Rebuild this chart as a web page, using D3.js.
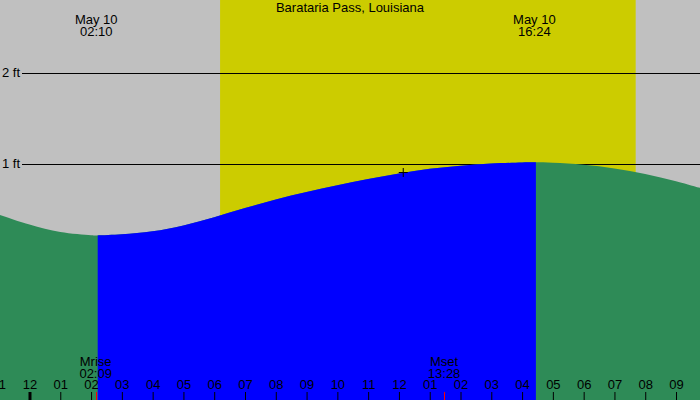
<!DOCTYPE html>
<html>
<head>
<meta charset="utf-8">
<script src="https://cdn.jsdelivr.net/npm/d3@7"></script>
<style>
  body { margin: 0; background: #fff; }
  svg { display: block; font-family: "Liberation Sans", Arial, sans-serif; }
</style>
</head>
<body>
<div id="holder"></div>
<script>
// hours since midnight May 10, tide height in feet
const tideHours = [-1, 0, 1, 2, 2.17, 3, 4, 5, 6, 7, 8, 9, 10, 11, 12, 13, 14, 15, 16, 16.4, 17, 18, 19, 20, 21, 22];
const tideFeet = [0.45, 0.34, 0.257, 0.223, 0.22, 0.232, 0.265, 0.33, 0.42, 0.52, 0.615, 0.695, 0.77, 0.84, 0.90, 0.95, 0.985, 1.008, 1.02, 1.022, 1.017, 0.995, 0.955, 0.895, 0.815, 0.72];

const extremeHours = [2.167, 16.4];
const extremeDates = ["May 10", "May 10"];
const extremeTimes = ["02:10", "16:24"];

const sunHours = [6.19, 19.69];

const moonHours = [2.15, 13.467];
const moonNames = ["Mrise", "Mset"];
const moonTimes = ["02:09", "13:28"];

const levelFeet = [0, 1, 2];
const levelLabels = ["0 ft", "1 ft", "2 ft"];

const tickHours = [-1, 0, 1, 2, 3, 4, 5, 6, 7, 8, 9, 10, 11, 12, 13, 14, 15, 16, 17, 18, 19, 20, 21];
const tickLabels = ["11", "12", "01", "02", "03", "04", "05", "06", "07", "08", "09", "10", "11", "12", "01", "02", "03", "04", "05", "06", "07", "08", "09"];

const nowHour = 12.14;
const nowFeet = 0.91;

const title = "Barataria Pass, Louisiana";

const width = 700;
const height = 400;

const xScale = d3.scaleLinear()
    .domain([-0.958, 21.779])
    .range([0, width]);
const yScale = d3.scaleLinear()
    .domain([0, 2])
    .range([255.5, 73.1]);

const svg = d3.select("#holder")
    .append("svg")
    .attr("width", width)
    .attr("height", height);

// night background
svg.append("rect")
    .attr("width", width)
    .attr("height", height)
    .attr("fill", "#c0c0c0");

// daylight
svg.append("rect")
    .attr("x", xScale(sunHours[0]))
    .attr("y", 0)
    .attr("width", xScale(sunHours[1]) - xScale(sunHours[0]))
    .attr("height", height)
    .attr("fill", "#cccc00");

// level lines
svg.selectAll(".level")
    .data(levelFeet)
    .enter()
    .append("line")
    .attr("x1", 22)
    .attr("x2", width)
    .attr("y1", (d) => Math.round(yScale(d)) + 0.5)
    .attr("y2", (d) => Math.round(yScale(d)) + 0.5)
    .attr("stroke", "black")
    .attr("stroke-width", 1);

svg.selectAll(".level-label")
    .data(levelFeet)
    .enter()
    .append("text")
    .attr("x", 2)
    .attr("y", (d) => yScale(d) + 4)
    .style("font-size", "13px")
    .attr("fill", "black")
    .text((d, i) => levelLabels[i]);

// tide
const tide = tideHours.map((h, i) => ({ h: h, ft: tideFeet[i] }));
const area = d3.area()
    .x((d) => xScale(d.h))
    .y0(height)
    .y1((d) => yScale(d.ft))
    .curve(d3.curveCatmullRom.alpha(0.5));

svg.append("path")
    .datum(tide)
    .attr("d", area)
    .attr("fill", "#2e8b57");

svg.append("clipPath")
    .attr("id", "flood")
    .append("rect")
    .attr("x", xScale(extremeHours[0]) + 1.5)
    .attr("y", 0)
    .attr("width", xScale(extremeHours[1]) - xScale(extremeHours[0]))
    .attr("height", height);

svg.append("path")
    .datum(tide)
    .attr("d", area)
    .attr("clip-path", "url(#flood)")
    .attr("fill", "#0000ff");

// current position marker
svg.append("path")
    .attr("d", `M${xScale(nowHour) - 4.5},${yScale(nowFeet)}h9M${xScale(nowHour)},${yScale(nowFeet) - 4.5}v9`)
    .attr("stroke", "black")
    .attr("stroke-width", 1)
    .attr("fill", "none");

// title and extremes
svg.append("text")
    .attr("x", width / 2)
    .attr("y", 12)
    .attr("text-anchor", "middle")
    .style("font-size", "13px")
    .text(title);

svg.selectAll(".ext-date")
    .data(extremeHours)
    .enter()
    .append("text")
    .attr("x", (d) => xScale(d))
    .attr("y", 24)
    .attr("text-anchor", "middle")
    .style("font-size", "13px")
    .text((d, i) => extremeDates[i]);

svg.selectAll(".ext-time")
    .data(extremeHours)
    .enter()
    .append("text")
    .attr("x", (d) => xScale(d))
    .attr("y", 36)
    .attr("text-anchor", "middle")
    .style("font-size", "13px")
    .text((d, i) => extremeTimes[i]);

// hour axis
const xAxis = d3.axisTop(xScale)
    .tickValues(tickHours)
    .tickSize(8)
    .tickPadding(3)
    .tickFormat((d, i) => tickLabels[i]);

const axisG = svg.append("g")
    .attr("transform", `translate(0, ${height})`)
    .call(xAxis);

axisG.select(".domain").remove();
axisG.attr("font-family", null).attr("font-size", null);
axisG.selectAll("text")
    .style("font-size", "13px")
    .attr("fill", "black");
axisG.selectAll("line")
    .attr("stroke", "black")
    .attr("stroke-width", (d) => d === 0 ? 3 : 1);

// moon rise / set
svg.selectAll(".moon-tick")
    .data(moonHours)
    .enter()
    .append("line")
    .attr("x1", (d) => Math.round(xScale(d)) + 0.5)
    .attr("x2", (d) => Math.round(xScale(d)) + 0.5)
    .attr("y1", height - 8)
    .attr("y2", height)
    .attr("stroke", "red");

svg.selectAll(".moon-name")
    .data(moonHours)
    .enter()
    .append("text")
    .attr("x", (d) => xScale(d))
    .attr("y", 366)
    .attr("text-anchor", "middle")
    .style("font-size", "13px")
    .text((d, i) => moonNames[i]);

svg.selectAll(".moon-time")
    .data(moonHours)
    .enter()
    .append("text")
    .attr("x", (d) => xScale(d))
    .attr("y", 378)
    .attr("text-anchor", "middle")
    .style("font-size", "13px")
    .text((d, i) => moonTimes[i]);
</script>
</body>
</html>
